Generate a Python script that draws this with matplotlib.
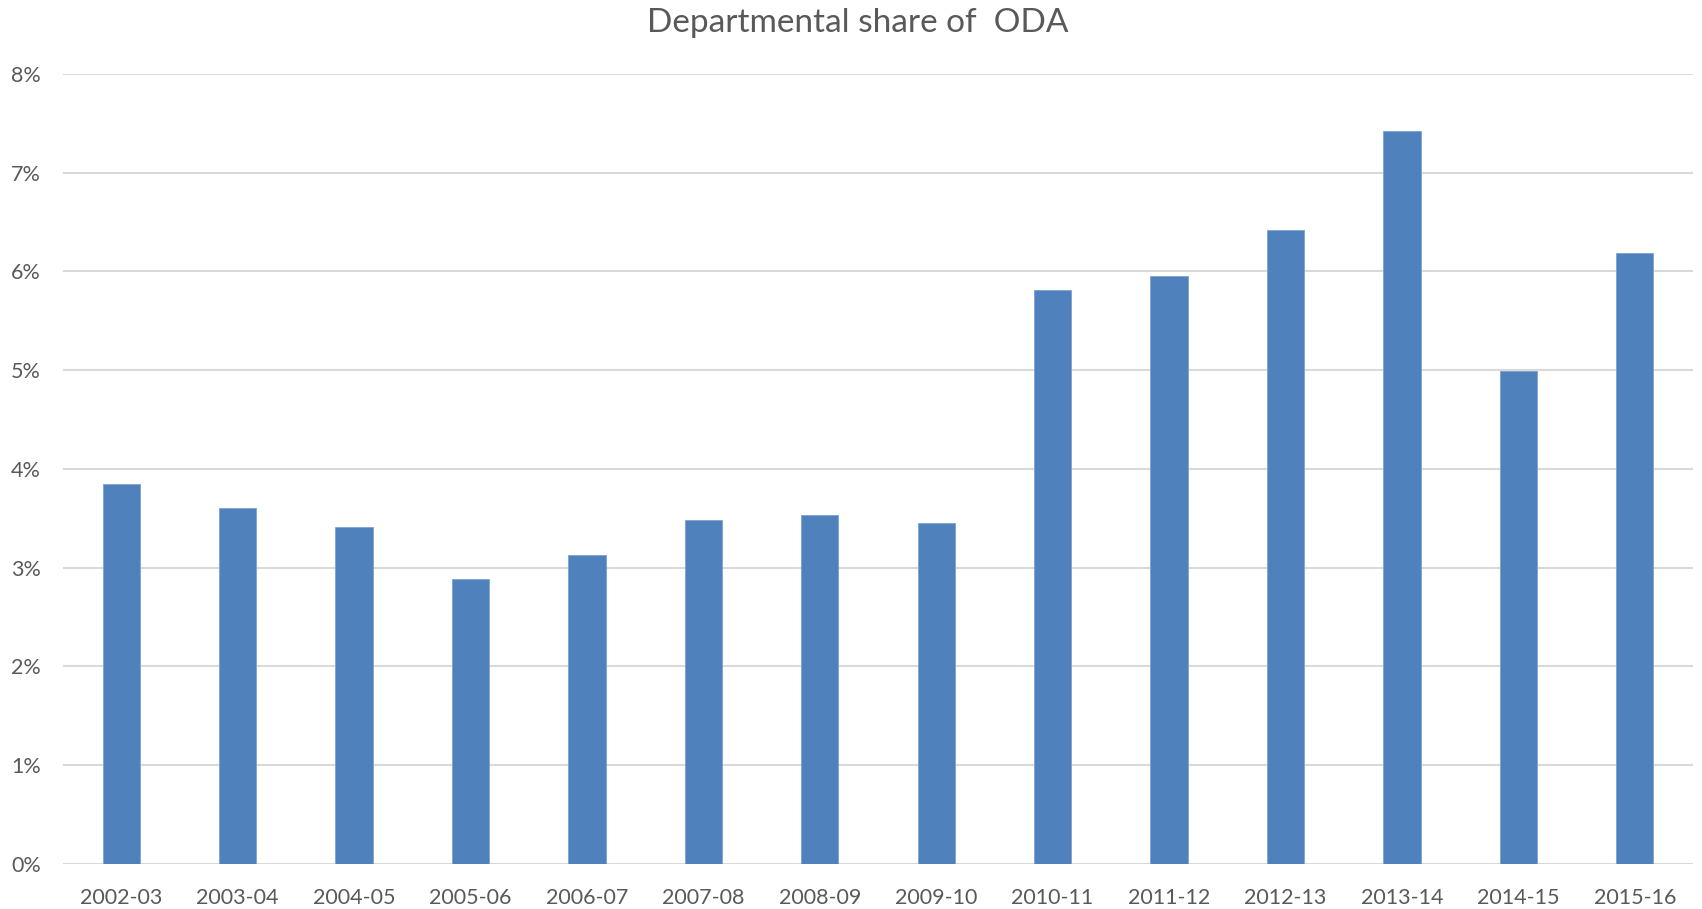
import matplotlib
matplotlib.use('Agg')
import matplotlib.pyplot as plt
import numpy as np

plt.rcParams['font.family'] = ['Lato', 'DejaVu Sans']

years = ['2002-03', '2003-04', '2004-05', '2005-06', '2006-07', '2007-08', '2008-09',
         '2009-10', '2010-11', '2011-12', '2012-13', '2013-14', '2014-15', '2015-16']
share = [3.85, 3.60, 3.41, 2.89, 3.13, 3.48, 3.53, 3.45, 5.81, 5.95, 6.42, 7.42, 4.99, 6.19]
yticks = [0, 1, 2, 3, 4, 5, 6, 7, 8]

text_col = '#595959'

fig = plt.figure(figsize=(17.02, 9.09), dpi=100)
ax = fig.add_axes([0.037, 0.0495, 0.9577, 0.8693])

x = np.arange(len(years))
ax.bar(x, share, width=0.32, color='#4f81bd', edgecolor='#7ea3d1', linewidth=0.6, zorder=3)

ax.set_xlim(-0.5, len(years) - 0.5)
ax.set_ylim(0, 8)
ax.set_yticks(yticks)
ax.set_yticklabels([f'{v}%' for v in yticks])
ax.set_xticks(x)
ax.set_xticklabels(years)
ax.tick_params(axis='both', length=0, labelsize=15.5, colors=text_col)
ax.tick_params(axis='y', pad=16)
ax.tick_params(axis='x', pad=17)

ax.grid(axis='y', color='#d9d9d9', linewidth=1.5, zorder=0)
for s in ['top', 'right', 'left', 'bottom']:
    ax.spines[s].set_visible(False)

fig.text(0.504, 0.975, 'Departmental share of  ODA', ha='center', va='center',
         fontsize=24, color=text_col)

fig.savefig('out.png', dpi=100)
